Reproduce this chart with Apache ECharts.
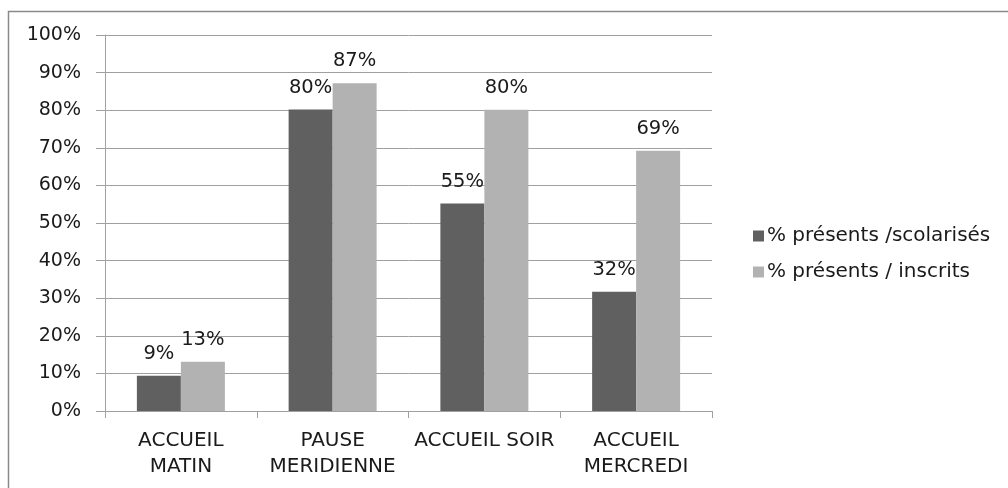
<!DOCTYPE html>
<html>
<head>
<meta charset="utf-8">
<script src="https://cdn.jsdelivr.net/npm/echarts@6/dist/echarts.min.js"></script>
<style>
  html, body { margin: 0; padding: 0; background: #fff; }
  #chart { width: 1008px; height: 488px; }
</style>
</head>
<body>
<div id="chart"></div>
<script>
// Data
const categories = ['ACCUEIL\nMATIN', 'PAUSE\nMERIDIENNE', 'ACCUEIL SOIR', 'ACCUEIL\nMERCREDI'];
const seriesNames = ['% présents /scolarisés', '% présents / inscrits'];
const scolarises = [9.4, 80.2, 55.2, 31.7];
const inscrits = [13.1, 87.2, 80.1, 69.2];
const colors = ['#606060', '#b2b2b2'];

const font = '"DejaVu Sans", sans-serif';

const chart = echarts.init(document.getElementById('chart'), null, { renderer: 'canvas' });

const barLabel = {
    show: true, position: 'top', distance: 12,
    color: '#1a1a1a', fontSize: 19.5, fontFamily: font,
    formatter: p => Math.round(p.value) + '%'
};

chart.setOption({
    animation: false,
    backgroundColor: '#fff',
    graphic: [{
        type: 'rect',
        shape: { x: 8.5, y: 11.5, width: 1010, height: 500 },
        style: { fill: 'none', stroke: '#8a8a8a', lineWidth: 1.5 },
        z: 100
    }],
    grid: { left: 105, right: 296, top: 35, bottom: 77 },
    legend: {
        orient: 'vertical', left: 748, top: 221,
        itemWidth: 11, itemHeight: 11, itemGap: 16,
        icon: 'rect',
        textStyle: { fontSize: 20, fontFamily: font, color: '#1a1a1a', padding: [0, 0, 0, -2] },
        data: seriesNames
    },
    xAxis: {
        type: 'category', data: categories,
        axisLine: { lineStyle: { color: '#a0a0a0', width: 1 } },
        axisTick: { show: true, length: 7, lineStyle: { color: '#a0a0a0' } },
        axisLabel: { fontSize: 20, fontFamily: font, color: '#1a1a1a', margin: 17, lineHeight: 26, interval: 0 }
    },
    yAxis: {
        type: 'value', min: 0, max: 100, interval: 10,
        axisLine: { show: true, lineStyle: { color: '#a0a0a0' } },
        axisTick: { show: true, length: 9, lineStyle: { color: '#a0a0a0' } },
        axisLabel: { fontSize: 19, fontFamily: font, color: '#1a1a1a', margin: 24, formatter: '{value}%' },
        splitLine: { lineStyle: { color: '#a0a0a0', width: 1 } }
    },
    series: [
        { name: seriesNames[0], type: 'bar', data: scolarises, barWidth: 44, barGap: '0%',
          itemStyle: { color: colors[0] }, label: barLabel },
        { name: seriesNames[1], type: 'bar', data: inscrits, barWidth: 44,
          itemStyle: { color: colors[1] }, label: barLabel }
    ]
});
</script>
</body>
</html>
